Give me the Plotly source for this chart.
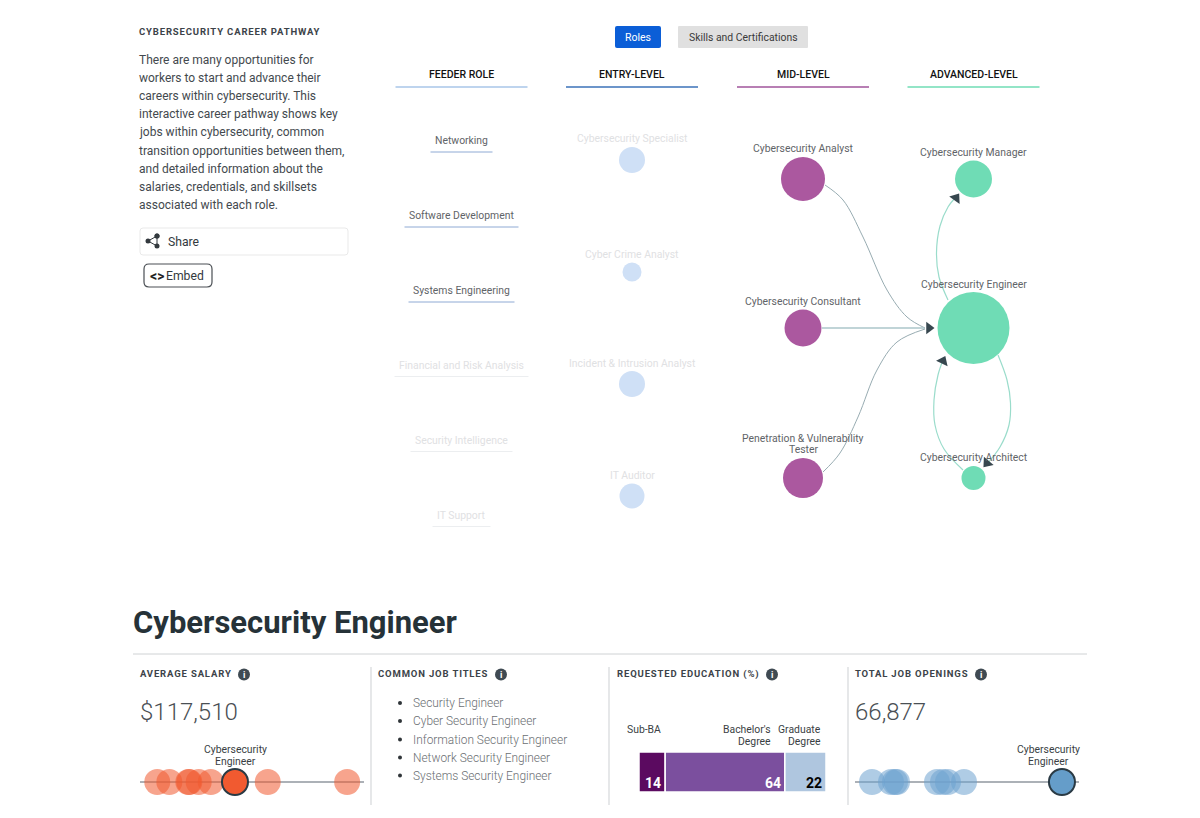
import plotly.graph_objects as go

# ---------- data ----------
intro_lines = ["There are many opportunities for", "workers to start and advance their",
               "careers within cybersecurity. This", "interactive career pathway shows key",
               "jobs within cybersecurity, common", "transition opportunities between them,",
               "and detailed information about the", "salaries, credentials, and skillsets",
               "associated with each role."]
column_names = ["FEEDER ROLE", "ENTRY-LEVEL", "MID-LEVEL", "ADVANCED-LEVEL"]
column_x = [461.5, 632, 803, 973.5]
column_colors = ["#a9c6e8", "#3b72b8", "#a0559b", "#6fdcb5"]

feeder_names = ["Networking", "Software Development", "Systems Engineering",
                "Financial and Risk Analysis", "Security Intelligence", "IT Support"]
feeder_y = [141, 216, 291, 366, 441, 516]
feeder_halfwidth = [31, 57, 53, 67, 51, 29]
feeder_active = [True, True, True, False, False, False]

entry_names = ["Cybersecurity Specialist", "Cyber Crime Analyst", "Incident & Intrusion Analyst", "IT Auditor"]
entry_y = [160, 272, 384, 496]
entry_size = [26, 19, 26, 25]
entry_label_y = [138.5, 254, 363, 475.5]

mid_names = ["Cybersecurity Analyst", "Cybersecurity Consultant", "Penetration & Vulnerability|Tester"]
mid_y = [179, 328, 478]
mid_size = [44, 37, 40]
mid_label_y = [148, 301, 438]

adv_names = ["Cybersecurity Manager", "Cybersecurity Engineer", "Cybersecurity Architect"]
adv_y = [179, 328, 478]
adv_size = [37, 72, 24]
adv_label_y = [152, 284, 457]

link_analyst_x = [825, 843, 863, 887, 907, 925]
link_analyst_y = [185, 200, 237, 290, 317, 328]
link_consultant_x = [822, 925]
link_consultant_y = [328, 328]
link_tester_x = [823, 840, 858, 877, 897, 925]
link_tester_y = [472, 453, 417, 370, 342, 329]
link_manager_x = [948, 939, 936.5, 940, 948, 956]
link_manager_y = [300, 277, 253, 226, 207, 197]
link_arch_up_x = [963, 944, 935, 934, 938, 943]
link_arch_up_y = [470, 449, 425, 400, 375, 360]
link_eng_down_x = [998, 1007, 1010.5, 1009, 1000, 986]
link_eng_down_y = [355, 380, 403, 425, 447, 465]
arrow_x = [929, 956, 943, 987]
arrow_y = [328, 198, 361, 463]
arrow_angle = [90, 35, 25, 220]

detail_title = "Cybersecurity Engineer"
salary_values = [95000, 98500, 104000, 104300, 107000, 110500, 127000, 150000]
salary_highlight = 117510
job_titles = ["Security Engineer", "Cyber Security Engineer", "Information Security Engineer",
              "Network Security Engineer", "Systems Security Engineer"]
title_y = [703, 721, 739.5, 757.5, 775.5]
edu_names = ["Sub-BA", "Bachelor's|Degree", "Graduate|Degree"]
edu_values = [14, 64, 22]
edu_colors = ["#5b0a60", "#7b4f9e", "#afc6df"]
edu_text_colors = ["#ffffff", "#ffffff", "#000000"]
edu_label_shift = [-2, -12, -3]
opening_values = [23850, 28150, 29060, 29510, 38570, 39930, 41060, 44690]
opening_highlight = 66877
panel_heads = ["AVERAGE SALARY", "COMMON JOB TITLES", "REQUESTED EDUCATION (%)", "TOTAL JOB OPENINGS"]
panel_head_x = [139, 376.5, 616, 854]
panel_icon_x = [244, 501, 772, 981]

W, H = 1200, 818
FONT = "Roboto"
DARK = "#37474f"
LABEL = "#5f6468"
FADE = "#dfe1e3"

annotations, shapes = [], []


def txt(x, y, s, size=10.5, color=LABEL, anchor="center", weight=400):
    annotations.append(dict(x=x, y=y, xref="x", yref="y", text=s, showarrow=False,
                            xanchor=anchor, yanchor="middle", align=anchor, borderpad=0,
                            font=dict(family=FONT, size=size, color=color, weight=weight)))


def hline(x0, x1, y, color, width=1):
    shapes.append(dict(type="line", x0=x0, x1=x1, y0=y, y1=y, xref="x", yref="y", layer="below",
                       line=dict(color=color, width=width)))


def vline(x, y0, y1, color, width=1):
    shapes.append(dict(type="line", x0=x, x1=x, y0=y0, y1=y1, xref="x", yref="y", layer="below",
                       line=dict(color=color, width=width)))


def rrect(x0, y0, x1, y1, r, fill, line, lw=1):
    p = (f"M{x0+r},{y0} L{x1-r},{y0} Q{x1},{y0} {x1},{y0+r} L{x1},{y1-r} Q{x1},{y1} {x1-r},{y1} "
         f"L{x0+r},{y1} Q{x0},{y1} {x0},{y1-r} L{x0},{y0+r} Q{x0},{y0} {x0+r},{y0} Z")
    shapes.append(dict(type="path", path=p, xref="x", yref="y", fillcolor=fill, layer="below",
                       line=dict(color=line, width=lw)))


fig = go.Figure()

# ---------- left text ----------
txt(138, 31, "CYBERSECURITY CAREER PATHWAY", 9.5, "#3c4349", "left", 700)
for i, line in enumerate(intro_lines):
    txt(138, 59.5 + i * 18.2, line, 12, "#43494e", "left", 400)
rrect(140, 228, 348, 255, 3, "#ffffff", "#e9e9e9")
txt(167, 241.5, "Share", 12.2, "#33393e", "left")
rrect(144, 264, 212, 287, 5, "#ffffff", "#4a4f54", 1.2)
txt(157, 276, "&lt;&gt;", 14, "#222222", "center", 700)
txt(165, 275.5, "Embed", 12.2, "#33393e", "left")
icon_x, icon_y = [157, 148, 157, 157], [236, 241, 246, 236]
fig.add_trace(go.Scatter(x=icon_x, y=icon_y, mode="lines+markers", line=dict(color="#33393e", width=1),
                         marker=dict(size=5, color="#33393e", opacity=1), hoverinfo="skip"))

# ---------- buttons ----------
rrect(615, 26, 661, 48, 2, "#0b5ed7", "#0b5ed7", 0)
txt(638, 37, "Roles", 10.5, "#ffffff")
rrect(678, 26, 808, 48, 1, "#e0e0e0", "#e0e0e0", 0)
txt(743, 37, "Skills and Certifications", 10.4, "#3a3a3a")

# ---------- columns ----------
for name, x, c in zip(column_names, column_x, column_colors):
    txt(x, 74, name, 10.5, "#111111", "center", 500)
    hline(x - 66, x + 66, 87, c, 1.5)

for name, y, hw, active in zip(feeder_names, feeder_y, feeder_halfwidth, feeder_active):
    txt(461.5, y - 0.4, name, 10.4, LABEL if active else FADE)
    hline(461.5 - hw, 461.5 + hw, y + (11 if active else 10.5), "#8faad4" if active else "#eceef0", 1)

# ---------- links ----------
for lx, ly, c, w in [(link_analyst_x, link_analyst_y, "#98acb2", 1),
                     (link_consultant_x, link_consultant_y, "#abc6ca", 1.5),
                     (link_tester_x, link_tester_y, "#98acb2", 1),
                     (link_manager_x, link_manager_y, "#9adccb", 1.2),
                     (link_arch_up_x, link_arch_up_y, "#9adccb", 1.2),
                     (link_eng_down_x, link_eng_down_y, "#9adccb", 1.2)]:
    fig.add_trace(go.Scatter(x=lx, y=ly, mode="lines", line=dict(color=c, width=w, shape="spline", smoothing=1),
                             hoverinfo="skip"))
fig.add_trace(go.Scatter(x=arrow_x, y=arrow_y, mode="markers", hoverinfo="skip",
                         marker=dict(symbol="triangle-up", size=11, color=DARK, angle=arrow_angle, opacity=1)))

# ---------- nodes ----------
fig.add_trace(go.Scatter(x=[column_x[1]] * 4, y=entry_y, mode="markers", hoverinfo="skip",
                         marker=dict(size=entry_size, color="#cfe0f6", opacity=1, line=dict(width=0))))
fig.add_trace(go.Scatter(x=[column_x[2]] * 3, y=mid_y, mode="markers", hoverinfo="skip",
                         marker=dict(size=mid_size, color="#ab589f", opacity=1, line=dict(width=0))))
fig.add_trace(go.Scatter(x=[column_x[3]] * 3, y=adv_y, mode="markers", hoverinfo="skip",
                         marker=dict(size=adv_size, color="#6fdcb5", opacity=1, line=dict(width=0))))

for name, y in zip(entry_names, entry_label_y):
    txt(column_x[1], y, name, 10.4, FADE)
for names, ys, cx in [(mid_names, mid_label_y, column_x[2]), (adv_names, adv_label_y, column_x[3])]:
    for name, y in zip(names, ys):
        for k, part in enumerate(name.split("|")):
            txt(cx, y + k * 11.5, part, 10.4, LABEL)

# ---------- detail header ----------
txt(131.5, 622.5, detail_title, 31, "#263238", "left", 700)
hline(133, 1087, 654, "#cfd2d4", 1)
for x in [371, 609, 848]:
    vline(x, 667, 805, "#d5d8da", 1.2)
for name, x in zip(panel_heads, panel_head_x):
    txt(x, 673.5, name, 9.5, "#3c4349", "left", 700)
fig.add_trace(go.Scatter(x=panel_icon_x, y=[674.5] * 4, mode="markers", hoverinfo="skip",
                         marker=dict(size=12, color="#3f4a52", opacity=1)))
for ix in panel_icon_x:
    txt(ix, 674.5, "i", 9, "#ffffff", "center", 700)

# ---------- salary panel ----------
txt(139, 711.5, "$117,510", 24, "#4a4f54", "left", 300)
txt(235, 749.5, "Cybersecurity", 10.4, "#3a3f44")
txt(235, 761, "Engineer", 10.4, "#3a3f44")
hline(140, 364, 782, "#5a6570", 1.2)
hline(855, 1079, 782, "#5a6570", 1.2)
for v, xa, ya, col, hcol, hi in [(salary_values, "x2", "y2", "#f15a30", "#f15a30", salary_highlight),
                                 (opening_values, "x4", "y4", "#6ea3cf", "#659dc9", opening_highlight)]:
    fig.add_trace(go.Scatter(x=v, y=[0] * len(v), xaxis=xa, yaxis=ya, mode="markers", hoverinfo="skip", cliponaxis=False,
                             marker=dict(size=26, color=col, opacity=0.55, line=dict(width=0))))
    fig.add_trace(go.Scatter(x=[hi], y=[0], xaxis=xa, yaxis=ya, mode="markers", hoverinfo="skip", cliponaxis=False,
                             marker=dict(size=26, color=hcol, opacity=1, line=dict(width=2, color="#2a3a44"))))

# ---------- job titles ----------
fig.add_trace(go.Scatter(x=[400] * len(title_y), y=title_y, mode="markers", hoverinfo="skip",
                         marker=dict(size=4, color="#2f3438", opacity=1)))
for t, y in zip(job_titles, title_y):
    txt(412, y, t, 11.9, "#6a6e72", "left", 300)

# ---------- education ----------
cum = 0
for name, val, c, tc, sh in zip(edu_names, edu_values, edu_colors, edu_text_colors, edu_label_shift):
    fig.add_trace(go.Bar(x=[val], y=[0], base=[cum], orientation="h", width=1, xaxis="x3", yaxis="y3",
                         marker=dict(color=c, line=dict(color="#ffffff", width=1.5)), hoverinfo="skip"))
    cum += val
    annotations.append(dict(x=cum, y=-0.28, xref="x3", yref="y3", text=f"<b>{val}</b>", showarrow=False,
                            xanchor="right", yanchor="middle", xshift=-2,
                            font=dict(family=FONT, size=14, color=tc)))
    parts = name.split("|")
    ys = [729] if len(parts) == 1 else [729, 741]
    for part, y in zip(parts, ys):
        annotations.append(dict(x=cum, y=y, xref="x3", yref="y", text=part, showarrow=False, xanchor="right",
                                yanchor="middle", xshift=sh, font=dict(family=FONT, size=10.4, color="#3a3f44")))

# ---------- openings panel ----------
txt(854, 711.5, "66,877", 24, "#4a4f54", "left", 300)
txt(1048, 749.5, "Cybersecurity", 10.4, "#3a3f44")
txt(1048, 761, "Engineer", 10.4, "#3a3f44")

hide = dict(visible=False, fixedrange=True)
fig.update_layout(
    width=W, height=H, margin=dict(l=0, r=0, t=0, b=0), showlegend=False, barmode="overlay",
    paper_bgcolor="#ffffff", plot_bgcolor="rgba(0,0,0,0)",
    font=dict(family=FONT),
    xaxis=dict(range=[0, W], domain=[0, 1], **hide),
    yaxis=dict(range=[H, 0], domain=[0, 1], **hide),
    xaxis2=dict(range=[90000, 154880], domain=[140 / W, 364 / W], anchor="y2", **hide),
    yaxis2=dict(range=[-1, 1], domain=[1 - 802 / H, 1 - 762 / H], anchor="x2", **hide),
    xaxis3=dict(range=[0, 100], domain=[639 / W, 826 / W], anchor="y3", **hide),
    yaxis3=dict(range=[-0.5, 0.5], domain=[1 - 792 / H, 1 - 752 / H], anchor="x3", **hide),
    xaxis4=dict(range=[20000, 70736], domain=[855 / W, 1079 / W], anchor="y4", **hide),
    yaxis4=dict(range=[-1, 1], domain=[1 - 802 / H, 1 - 762 / H], anchor="x4", **hide),
    annotations=annotations, shapes=shapes,
)

post = """
document.body.style.margin='0';
var heads=['CYBERSECURITY CAREER PATHWAY','AVERAGE SALARY','COMMON JOB TITLES','REQUESTED EDUCATION (%)','TOTAL JOB OPENINGS'];
document.querySelectorAll('.annotation-text').forEach(function(t){
  if(heads.indexOf(t.textContent)>=0){t.style.letterSpacing='0.85px';}
});
"""
fig.write_html("out.html", config=dict(displayModeBar=False), post_script=post)
